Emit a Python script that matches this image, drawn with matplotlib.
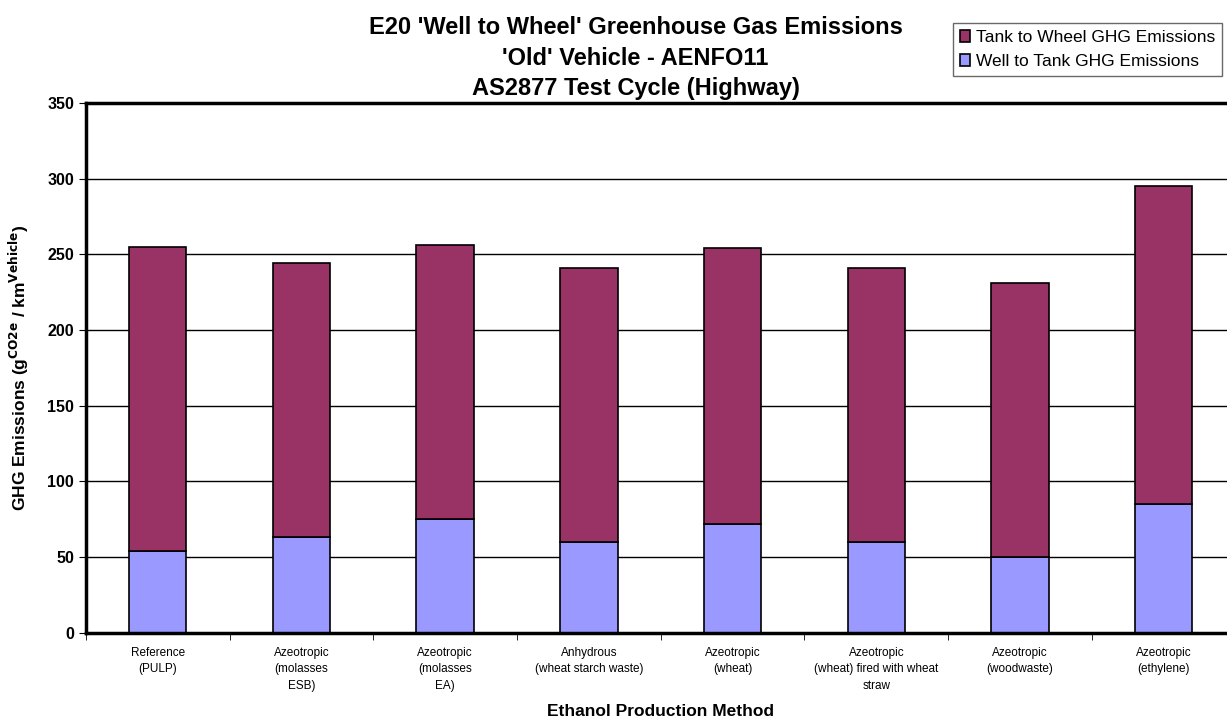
import numpy as np
from matplotlib import pyplot as plt
from matplotlib import ticker

plt.rcParams['font.family'] = ['Liberation Sans', 'DejaVu Sans']

methods = ['Reference\n(PULP)', 'Azeotropic\n(molasses\nESB)', 'Azeotropic\n(molasses\nEA)',
           'Anhydrous\n(wheat starch waste)', 'Azeotropic\n(wheat)',
           'Azeotropic\n(wheat) fired with wheat\nstraw', 'Azeotropic\n(woodwaste)',
           'Azeotropic\n(ethylene)']
well_to_tank = [54, 63, 75, 60, 72, 60, 50, 85]
total = [255, 244, 256, 241, 254, 241, 231, 295]
tank_to_wheel = [t - w for t, w in zip(total, well_to_tank)]

fig = plt.figure(figsize=(12.27, 7.2), dpi=100)
ax = fig.add_axes([0.070, 0.121, 0.937, 0.736])

x = np.arange(len(methods))
ax.set_axisbelow(True)
ax.yaxis.grid(True, color='black', linewidth=1)
b2 = ax.bar(x, well_to_tank, width=0.4, color='#9999FF', edgecolor='black', linewidth=1.2,
            label='Well to Tank GHG Emissions')
b1 = ax.bar(x, tank_to_wheel, width=0.4, bottom=well_to_tank, color='#993366',
            edgecolor='black', linewidth=1.2, label='Tank to Wheel GHG Emissions')

ax.set_xlim(-0.5, len(methods) - 0.5)
ax.set_ylim(0, 350)
ax.yaxis.set_major_locator(ticker.MultipleLocator(50))
ax.set_xticks(x)
ax.set_xticklabels(methods, fontsize=8.5, va='top', linespacing=1.5)
ax.xaxis.set_minor_locator(ticker.FixedLocator(np.arange(-0.5, len(methods), 1)))
ax.tick_params(axis='x', which='major', length=0, pad=10)
ax.tick_params(axis='x', which='minor', length=5, direction='out', color='black')
ax.tick_params(axis='y', length=5, direction='out', labelsize=11.5)
for lab in ax.get_yticklabels():
    lab.set_fontweight('bold')

for s in ax.spines.values():
    s.set_linewidth(2.5)

ax.set_ylabel('GHG Emissions (g$^{\\mathbf{CO2e}}$ / km$^{\\mathbf{Vehicle}}$)',
              fontsize=12.5, fontweight='bold')
ax.yaxis.set_label_coords(-0.048, 0.5)
ax.set_xlabel('Ethanol Production Method', fontsize=12.5, fontweight='bold', va='center')
ax.xaxis.set_label_coords(0.5, -0.149)

fig.text(0.518, 0.9625, "E20 'Well to Wheel' Greenhouse Gas Emissions", ha='center', va='center',
         fontsize=17, fontweight='bold')
fig.text(0.518, 0.9194, "'Old' Vehicle - AENFO11", ha='center', va='center',
         fontsize=17, fontweight='bold')
fig.text(0.518, 0.8764, "AS2877 Test Cycle (Highway)", ha='center', va='center',
         fontsize=17, fontweight='bold')

leg = fig.legend(handles=[b1, b2], loc='upper right', bbox_to_anchor=(0.996, 0.968),
                 fontsize=12.5, frameon=True, fancybox=False, handlelength=0.55,
                 handleheight=0.7, handletextpad=0.35, borderpad=0.4, labelspacing=0.5,
                 borderaxespad=0)
leg.get_frame().set_edgecolor('#444444')
leg.get_frame().set_linewidth(1)

fig.savefig('out.png', dpi=100)
